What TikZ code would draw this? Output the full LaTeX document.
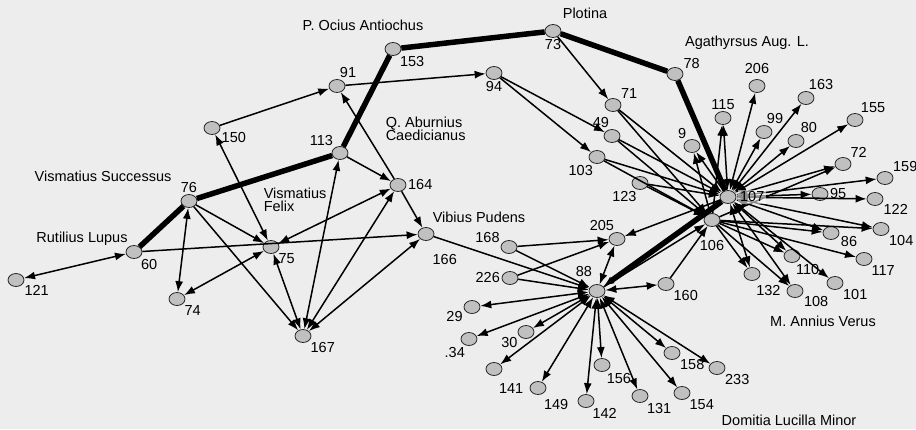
\documentclass[tikz,border=0pt]{standalone}
\usepackage{fontspec}
\setmainfont{Liberation Sans}
\usetikzlibrary{shapes.geometric, arrows.meta, positioning}

\definecolor{bgcol}{RGB}{237,237,237}
\definecolor{nodecol}{RGB}{192,192,192}

\tikzset{
	pers/.style={ellipse, draw=black!85, fill=nodecol, line width=0.8pt,
		minimum width=16pt, minimum height=13pt, inner sep=0pt},
	who/.style={font=\fontsize{14.5}{13.5}\selectfont, align=left, inner sep=0pt},
	tie/.style={line width=5.5pt},
	every label/.style={font=\fontsize{14.5}{13.5}\selectfont, inner sep=1pt},
}

\begin{document}
\begin{tikzpicture}[x=1pt, y=-1pt, >={Latex[length=11pt,width=8pt]}, line width=1.5pt]
	\fill[bgcol] (0,0) rectangle (916,429);
	\useasboundingbox (0,0) rectangle (916,429);

	% left group
	\node[pers, label={-45:153}] (n153) at (393,49) {};
	\node[pers, label={80:91}] (n91) at (337,86) {};
	\node[pers, label={-15:150}] (n150) at (212,128) {};
	\node[pers, label={135:113}] (n113) at (340,153) {};
	\node[pers, label={0:164}] (n164) at (398,185) {};
	\node[pers, label={90:76}] (n76) at (189,201) {};
	\node[pers, label={-45:60}] (n60) at (134,252) {};
	\node[pers, label={-30:121}] (n121) at (16,280) {};
	\node[pers, label={-40:74}] (n74) at (177,299) {};
	\node[pers, label={-40:75}] (n75) at (271,247) {};
	\node[pers, label={-40:167}] (n167) at (303,336) {};
	\node[pers, label={[label distance=12pt]-75:166}] (n166) at (426,234) {};

	% upper right
	\node[pers, label={270:73}] (n73) at (553,31) {};
	\node[pers, label={30:78}] (n78) at (675,74) {};
	\node[pers, label={270:94}] (n94) at (494,73) {};
	\node[pers, label={35:71}] (n71) at (613,105) {};
	\node[pers, label={100:49}] (n49) at (612,136) {};
	\node[pers, label={250:103}] (n103) at (597,157) {};
	\node[pers, label={255:123}] (n123) at (640,183) {};
	\node[pers, label={125:9}] (n9) at (692,146) {};
	\node[pers, label={90:115}] (n115) at (723,118) {};
	\node[pers, label={[label distance=4pt]90:206}] (n206) at (757,86) {};
	\node[pers, label={80:99}] (n99) at (764,132) {};
	\node[pers, label={80:163}] (n163) at (806,98) {};
	\node[pers, label={65:80}] (n80) at (796,141) {};
	\node[pers, label={55:155}] (n155) at (855,120) {};
	\node[pers, label={40:72}] (n72) at (843,164) {};
	\node[pers, label={35:159}] (n159) at (885,178) {};
	\node[pers, label={0:95}] (n95) at (820,194) {};
	\node[pers] (n107) at (728,197) {};
	\node[pers, label={-30:122}] (n122) at (875,199) {};
	\node[pers, label={[label distance=12pt]270:106}] (n106) at (712,220) {};
	\node[pers, label={-10:86}] (n86) at (831,233) {};
	\node[pers, label={-35:104}] (n104) at (881,229) {};
	\node[pers, label={-40:117}] (n117) at (864,259) {};
	\node[pers, label={-70:110}] (n110) at (792,256) {};
	\node[pers, label={[label distance=3pt]-75:132}] (n132) at (752,274) {};
	\node[pers, label={-25:108}] (n108) at (795,291) {};
	\node[pers, label={-35:101}] (n101) at (835,283) {};

	% lower group
	\node[pers, label={100:205}] (n205) at (617,239) {};
	\node[pers, label={160:168}] (n168) at (509,247) {};
	\node[pers, label={180:226}] (n226) at (510,278) {};
	\node[pers, label={[label distance=6pt]105:88}] (n88) at (597,291) {};
	\node[pers, label={-40:160}] (n160) at (666,284) {};
	\node[pers, label={200:29}] (n29) at (472,307) {};
	\node[pers, label={250:.34}] (n34) at (469,339) {};
	\node[pers, label={210:30}] (n30) at (526,332) {};
	\node[pers, label={[label distance=6pt]-75:141}] (n141) at (494,369) {};
	\node[pers, label={[label distance=3pt]-65:149}] (n149) at (538,388) {};
	\node[pers, label={-50:142}] (n142) at (586,401) {};
	\node[pers, label={-65:156}] (n156) at (602,365) {};
	\node[pers, label={-45:131}] (n131) at (640,396) {};
	\node[pers, label={-40:154}] (n154) at (682,393) {};
	\node[pers, label={-35:158}] (n158) at (672,353) {};
	\node[pers, label={-35:233}] (n233) at (717,368) {};

	% names
	\node[who] (tAntiochus) at (363,25) {P. Ocius Antiochus};
	\node[who] (tPlotina) at (585,13) {Plotina};
	\node[who] (tAgathyrsus) at (747,43) {Agathyrsus Aug. L.};
	\node[who, anchor=west] (tAburnius) at (385,129) {Q. Aburnius\\Caedicianus};
	\node[who] (tSuccessus) at (103,176) {Vismatius Successus};
	\node[who, anchor=west] (tFelix) at (263,200) {Vismatius\\Felix};
	\node[who] (tLupus) at (82,239) {Rutilius Lupus};
	\node[who] (tPudens) at (479,217) {Vibius Pudens};
	\node[who] (tVerus) at (823,321) {M. Annius Verus};
	\node[who] (tLucilla) at (789,420) {Domitia Lucilla Minor};

	% strong ties
	\draw[tie] (n60) -- (n76) -- (n113) -- (n153) -- (n73) -- (n78) -- (n107);
	\draw[tie, ->] (n107) -- (n88);

	\draw[->]
		(n60) edge[<->] (n121)
		(n60) edge (n166)
		(n76) edge (n75)
		(n76) edge (n167)
		(n76) edge[<->] (n74)
		(n75) edge[<->] (n74)
		(n75) edge[<->] (n167)
		(n75) edge[<->] (n150)
		(n75) edge[<->] (n164)
		(n150) edge (n91)
		(n91) edge (n94)
		(n164) edge (n91)
		(n164) edge (n166)
		(n113) edge (n164)
		(n113) edge[<->] (n167)
		(n164) edge[<->] (n167)
		(n166) edge[<->] (n167)
		(n166) edge (n88)

		(n94) edge (n49)
		(n94) edge (n103)
		(n73) edge (n71)
		(n71) edge (n107)
		(n71) edge (n106)
		(n49) edge (n107)
		(n49) edge (n106)
		(n103) edge (n107)
		(n103) edge (n106)
		(n123) edge (n107)
		(n123) edge (n106)
		(n107) edge (n9)
		(n106) edge (n9)
		(n107) edge[<->] (n115)
		(n106) edge (n115)
		(n107) edge[<->] (n206)
		(n107) edge[<->] (n99)
		(n107) edge[<->] (n163)
		(n107) edge[<->] (n80)
		(n107) edge[<->] (n155)
		(n107) edge[<->] (n72)
		(n107) edge[<->] (n159)
		(n107) edge[<->] (n95)
		(n107) edge[<->] (n122)
		(n107) edge[<->] (n104)
		(n107) edge[<->] (n86)
		(n107) edge[<->] (n101)
		(n107) edge[<->] (n110)
		(n107) edge[<->] (n108)
		(n107) edge[<->] (n132)
		(n106) edge (n72)
		(n106) edge (n104)
		(n106) edge (n86)
		(n106) edge (n117)
		(n106) edge (n110)
		(n106) edge (n108)
		(n106) edge (n132)
		(n107) edge (n205)
		(n160) edge (n106)
		(n88) edge (n106)

		(n88) edge[<->] (n160)
		(n88) edge[<->] (n205)
		(n168) edge (n205)
		(n226) edge (n205)
		(n168) edge (n88)
		(n226) edge (n88)
		(n88) edge[<->] (n29)
		(n88) edge[<->] (n34)
		(n88) edge[<->] (n30)
		(n88) edge[<->] (n141)
		(n88) edge[<->] (n149)
		(n88) edge[<->] (n142)
		(n88) edge[<->] (n156)
		(n88) edge[<->] (n131)
		(n88) edge[<->] (n154)
		(n88) edge[<->] (n158)
		(n88) edge[<->] (n233)
		;

	\node[who, fill=white, fill opacity=0.55, text opacity=1, inner sep=2pt,
		right=1pt of n107] (l107) {107};
\end{tikzpicture}
\end{document}
